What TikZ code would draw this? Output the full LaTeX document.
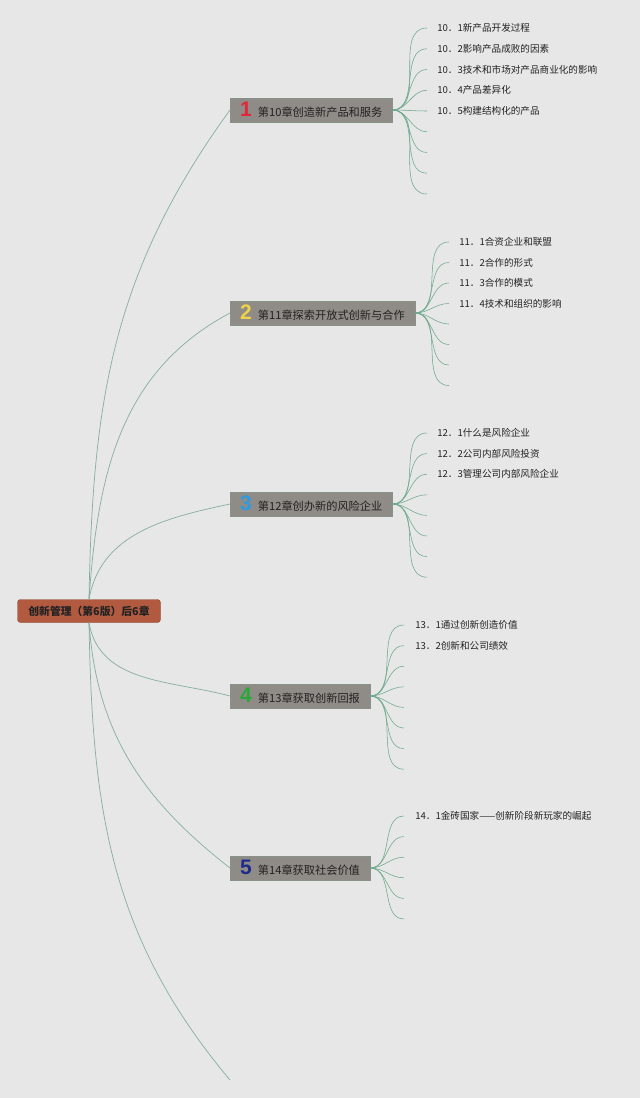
\documentclass[tikz,border=0pt]{standalone}
\usepackage{fontspec}
\setmainfont{Noto Sans CJK SC}
\newfontfamily\numfont{Liberation Sans}
\usetikzlibrary{positioning}
\definecolor{cbg}{HTML}{E6E7E6}
\definecolor{croot}{HTML}{B25A40}
\definecolor{cchap}{HTML}{8F8B86}
\definecolor{cline}{HTML}{86AE9E}
\definecolor{ctwig}{HTML}{6EA88E}
\definecolor{ctext}{HTML}{222222}
\definecolor{cone}{HTML}{E3263A}
\definecolor{ctwo}{HTML}{EFD24A}
\definecolor{cthree}{HTML}{2E9BE0}
\definecolor{cfour}{HTML}{2BA83A}
\definecolor{cfive}{HTML}{1F2A8C}
\tikzset{
  every picture/.style={x=1pt, y=1pt, line width=0.6pt},
  root/.style={fill=croot, draw=croot!80!black, line width=0.4pt, rounded corners=3pt,
    minimum height=23pt, minimum width=143pt, inner xsep=8pt, text=ctext,
    font=\bfseries\fontsize{10.8}{12}\selectfont},
  chap/.style={fill=cchap, draw=cchap!75!ctwig, line width=0.4pt, anchor=west,
    minimum height=24pt, inner xsep=10pt, text=ctext, font=\fontsize{11.2}{12}\selectfont},
  branch/.style={draw=cline, line width=0.7pt},
  twig/.style={draw=ctwig, line width=0.55pt},
  leaf/.style={anchor=west, inner sep=0pt, text=ctext, font=\fontsize{9.6}{11}\selectfont},
}
\newcommand{\chapnum}[2]{{\numfont\bfseries\fontsize{21}{20}\selectfont\color{#1}#2}\hspace{6pt}}
\begin{document}
\begin{tikzpicture}
  \fill[cbg] (0,0) rectangle (640,-1098);
  \useasboundingbox (0,0) rectangle (640,-1098);
  % root and chapters
  \node[root] (root) at (89,-611) {创新管理（第6版）后6章};
  \node[chap] (ch1) at (230,-110) {\chapnum{cone}{1}第10章创造新产品和服务};
  \node[chap] (ch2) at (230,-313) {\chapnum{ctwo}{2}第11章探索开放式创新与合作};
  \node[chap] (ch3) at (230,-504) {\chapnum{cthree}{3}第12章创办新的风险企业};
  \node[chap] (ch4) at (230,-696) {\chapnum{cfour}{4}第13章获取创新回报};
  \node[chap] (ch5) at (230,-868) {\chapnum{cfive}{5}第14章获取社会价值};
  \coordinate (ch6) at (230,-1080);
  % main branches
  \draw[branch] (root.north) to[out=89, in=234] (ch1.west);
  \draw[branch] (root.north) to[out=86, in=208] (ch2.west);
  \draw[branch] (root.north) to[out=80, in=192] (ch3.west);
  \draw[branch] (root.south) to[out=-80, in=165] (ch4.west);
  \draw[branch] (root.south) to[out=-86, in=142] (ch5.west);
  \draw[branch] (root.south) to[out=-89, in=130] (ch6);
  % chapter 10
  \foreach \i in {1,...,9} {
    \coordinate (a\i) at (427,-28-20.75*\i+20.75);
    \draw[twig] (ch1.east) to[out=0, in=180] (a\i);
  }
  \node[leaf, right=10pt of a1] (a1t) {10．1新产品开发过程};
  \node[leaf, right=10pt of a2] (a2t) {10．2影响产品成败的因素};
  \node[leaf, right=10pt of a3] (a3t) {10．3技术和市场对产品商业化的影响};
  \node[leaf, right=10pt of a4] (a4t) {10．4产品差异化};
  \node[leaf, right=10pt of a5] (a5t) {10．5构建结构化的产品};
  % chapter 11
  \foreach \i in {1,...,8} {
    \coordinate (b\i) at (449,-242-20.5*\i+20.5);
    \draw[twig] (ch2.east) to[out=0, in=180] (b\i);
  }
  \node[leaf, right=10pt of b1] (b1t) {11．1合资企业和联盟};
  \node[leaf, right=10pt of b2] (b2t) {11．2合作的形式};
  \node[leaf, right=10pt of b3] (b3t) {11．3合作的模式};
  \node[leaf, right=10pt of b4] (b4t) {11．4技术和组织的影响};
  % chapter 12
  \foreach \i in {1,...,8} {
    \coordinate (c\i) at (427,-433-20.6*\i+20.6);
    \draw[twig] (ch3.east) to[out=0, in=180] (c\i);
  }
  \node[leaf, right=10pt of c1] (c1t) {12．1什么是风险企业};
  \node[leaf, right=10pt of c2] (c2t) {12．2公司内部风险投资};
  \node[leaf, right=10pt of c3] (c3t) {12．3管理公司内部风险企业};
  % chapter 13
  \foreach \i in {1,...,8} {
    \coordinate (d\i) at (404,-625-20.6*\i+20.6);
    \draw[twig] (ch4.east) to[out=0, in=180] (d\i);
  }
  \node[leaf, right=11pt of d1] (d1t) {13．1通过创新创造价值};
  \node[leaf, right=11pt of d2] (d2t) {13．2创新和公司绩效};
  % chapter 14
  \foreach \i in {1,...,6} {
    \coordinate (e\i) at (404,-816-20.6*\i+20.6);
    \draw[twig] (ch5.east) to[out=0, in=180] (e\i);
  }
  \node[leaf, right=11pt of e1] (e1t) {14．1金砖国家——创新阶段新玩家的崛起};
\end{tikzpicture}
\end{document}
